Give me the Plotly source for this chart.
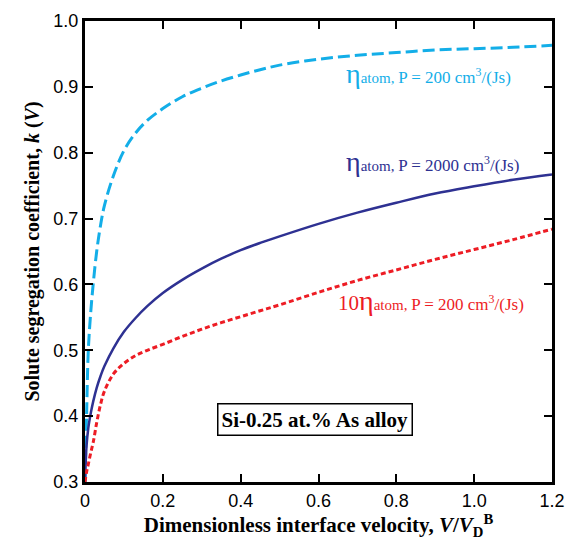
import plotly.graph_objects as go

V = [0, 0.004, 0.0085, 0.015, 0.021, 0.03, 0.04, 0.05, 0.073, 0.1, 0.13, 0.16, 0.2, 0.25,
     0.3, 0.35, 0.4, 0.45, 0.5, 0.6, 0.7, 0.8, 0.9, 1.0, 1.1, 1.2]
k_cyan = [0.30, 0.40, 0.50, 0.56, 0.60, 0.65, 0.69, 0.72, 0.765, 0.803, 0.830, 0.849, 0.867, 0.885,
          0.898, 0.909, 0.918, 0.926, 0.933, 0.942, 0.948, 0.952, 0.956, 0.958, 0.960, 0.963]
k_navy = [0.30, 0.355, 0.382, 0.405, 0.422, 0.443, 0.461, 0.476, 0.503, 0.528, 0.549, 0.567, 0.587, 0.607,
          0.624, 0.639, 0.652, 0.663, 0.673, 0.692, 0.709, 0.724, 0.738, 0.749, 0.759, 0.767]
k_red = [0.30, 0.315, 0.327, 0.345, 0.36, 0.39, 0.418, 0.438, 0.464, 0.480, 0.492, 0.500, 0.509, 0.521,
         0.532, 0.542, 0.551, 0.560, 0.569, 0.588, 0.606, 0.622, 0.638, 0.653, 0.668, 0.684]

x_ticks = [0, 0.2, 0.4, 0.6, 0.8, 1.0, 1.2]
x_tick_text = ["0", "0.2", "0.4", "0.6", "0.8", "1.0", "1.2"]
y_ticks = [0.3, 0.4, 0.5, 0.6, 0.7, 0.8, 0.9, 1.0]
y_tick_text = ["0.3", "0.4", "0.5", "0.6", "0.7", "0.8", "0.9", "1.0"]

CYAN = "#13aee8"
NAVY = "#2e3192"
RED = "#ed1c24"

fig = go.Figure()
fig.add_trace(go.Scatter(x=V, y=k_cyan, mode="lines", line=dict(color=CYAN, width=3, dash="12px,5px"),
                         line_shape="spline", showlegend=False))
fig.add_trace(go.Scatter(x=V, y=k_navy, mode="lines", line=dict(color=NAVY, width=2.5),
                         line_shape="spline", showlegend=False))
fig.add_trace(go.Scatter(x=V, y=k_red, mode="lines", line=dict(color=RED, width=3, dash="5px,3px"),
                         line_shape="spline", showlegend=False))

serif = "Liberation Serif, Times New Roman, serif"


def lab(prefix, p, color, x, y):
    pre = f"<span style='font-size:21px'>{prefix}</span>" if prefix else ""
    txt = (f"{pre}<span style='font-size:28px'>η</span>"
           f"<span style='font-size:15px'>atom, </span>"
           f"<span style='font-size:17px'>P = {p} cm<sup>3</sup>/(Js)</span>")
    fig.add_annotation(x=x, y=y, xref="x", yref="y", text=txt, showarrow=False,
                       font=dict(family=serif, color=color, size=17))


lab("", "200", CYAN, 0.882, 0.921)
lab("", "2000", NAVY, 0.892, 0.786)
lab("10", "200", RED, 0.889, 0.576)

fig.add_annotation(x=0.591, y=0.395, xref="x", yref="y", text="<b>Si-0.25 at.% As alloy</b>",
                   showarrow=False, font=dict(family=serif, size=21, color="black"),
                   bordercolor="black", borderwidth=1.5, borderpad=3, bgcolor="white")

axis_common = dict(showline=True, linecolor="black", linewidth=3, mirror="ticks",
                   ticks="inside", ticklen=8, tickwidth=2, tickcolor="black",
                   showgrid=False, zeroline=False,
                   tickfont=dict(family="Liberation Sans, Arial, sans-serif", size=18, color="black"))

fig.update_xaxes(range=[0, 1.2], tickvals=x_ticks, ticktext=x_tick_text,
                 title=dict(text="<b>Dimensionless interface velocity, <i>V</i>/<i>V</i><sub>D</sub><sup>B</sup></b>",
                            font=dict(family=serif, size=21, color="black"), standoff=4),
                 **axis_common)
fig.update_yaxes(range=[0.3, 1.0], tickvals=y_ticks, ticktext=y_tick_text,
                 title=dict(text="<b>Solute segregation coefficient, <i>k</i> (<i>V</i>)</b>",
                            font=dict(family=serif, size=20, color="black"), standoff=9),
                 **axis_common)

fig.update_layout(width=587, height=549, margin=dict(l=85, r=35, t=11, b=67),
                  paper_bgcolor="white", plot_bgcolor="white")

fig.write_html("out.html")
